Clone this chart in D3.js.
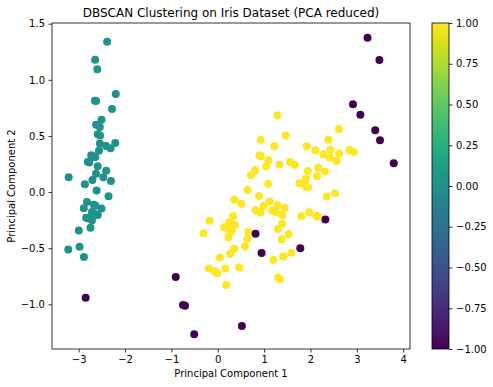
<!DOCTYPE html>
<html>
<head>
<meta charset="utf-8">
<script src="https://cdn.jsdelivr.net/npm/d3@7"></script>
<style>
  body { margin: 0; background: #fff; }
  text { font-family: "DejaVu Sans", sans-serif; fill: #000; }
</style>
</head>
<body>
<div id="chart"></div>
<script>
// PCA coordinates of the iris samples
var pc1 = [-2.684,-2.714,-2.889,-2.745,-2.729,-2.281,-2.821,-2.626,-2.886,-2.673,
  -2.507,-2.613,-2.786,-3.224,-2.645,-2.386,-2.624,-2.648,-2.200,-2.588,
  -2.310,-2.544,-3.216,-2.303,-2.356,-2.507,-2.469,-2.562,-2.640,-2.632,
  -2.587,-2.410,-2.649,-2.599,-2.637,-2.866,-2.625,-2.801,-2.981,-2.590,
  -2.770,-2.849,-2.997,-2.406,-2.209,-2.714,-2.538,-2.839,-2.543,-2.703,
  1.285,0.932,1.464,0.183,1.088,0.642,1.095,-0.749,1.044,-0.009,
  -0.508,0.512,0.265,0.985,-0.174,0.928,0.660,0.236,0.945,0.045,
  1.116,0.358,1.298,0.922,0.715,0.900,1.332,1.558,0.813,-0.306,
  -0.068,-0.190,0.136,1.380,0.588,0.807,1.221,0.815,0.246,0.166,
  0.465,0.891,0.231,-0.705,0.357,0.332,0.376,0.643,-0.906,0.299,
  2.531,1.415,2.617,1.972,2.350,3.397,0.521,2.933,2.321,2.917,
  1.662,1.803,2.166,1.346,1.586,1.904,1.950,3.487,3.796,1.301,
  2.428,1.199,3.500,1.389,2.275,2.614,1.259,1.291,2.124,2.388,
  2.842,3.231,2.159,1.444,1.781,3.076,2.144,1.905,1.169,2.108,
  2.314,1.922,1.415,2.563,2.419,1.944,1.527,1.764,1.901,1.390];
var pc2 = [0.319,-0.177,-0.145,-0.318,0.327,0.741,-0.089,0.163,-0.578,-0.114,
  0.645,0.015,-0.235,-0.511,1.179,1.338,0.811,0.312,0.873,0.514,
  0.391,0.433,0.133,0.099,-0.037,-0.146,0.131,0.368,0.312,-0.197,
  -0.204,0.411,0.813,1.093,-0.121,0.069,0.599,0.269,-0.488,0.229,
  0.264,-0.941,-0.342,0.189,0.437,-0.250,0.504,-0.228,0.579,0.108,
  0.685,0.318,0.504,-0.828,0.075,-0.418,0.283,-1.005,0.228,-0.723,
  -1.266,-0.104,-0.550,-0.125,-0.255,0.467,-0.353,-0.334,-0.543,-0.584,
  -0.085,-0.069,-0.328,-0.183,0.149,0.329,0.244,0.267,-0.163,-0.368,
  -0.705,-0.680,-0.314,-0.421,-0.484,0.194,0.408,-0.372,-0.269,-0.682,
  -0.671,-0.034,-0.404,-1.012,-0.505,-0.213,-0.293,0.018,-0.756,-0.349,
  -0.010,-0.575,0.344,-0.180,-0.040,0.551,-1.193,0.356,-0.244,0.783,
  0.242,-0.216,0.216,-0.777,-0.540,0.119,0.042,1.176,0.257,-0.761,
  0.378,-0.606,0.461,-0.204,0.335,0.561,-0.180,-0.117,-0.210,0.465,
  0.375,1.374,-0.217,-0.143,-0.500,0.688,0.140,0.049,-0.165,0.372,
  0.184,0.409,-0.575,0.278,0.305,0.188,-0.375,0.079,0.117,-0.283];
// DBSCAN cluster label per sample (-1 = noise)
var labels = [0,0,0,0,0,0,0,0,0,0, 0,0,0,0,0,0,0,0,0,0,
  0,0,0,0,0,0,0,0,0,0, 0,0,0,0,0,0,0,0,0,0,
  0,-1,0,0,0,0,0,0,0,0,
  1,1,1,1,1,1,1,-1,1,1, -1,1,1,1,1,1,1,1,-1,1,
  1,1,1,1,1,1,1,1,1,1, 1,1,1,1,1,1,1,-1,1,1,
  1,1,1,-1,1,1,1,1,-1,1,
  1,1,1,1,1,-1,-1,1,-1,-1, 1,1,1,1,1,1,1,-1,-1,1,
  1,1,-1,1,1,1,1,1,1,1, 1,-1,1,1,-1,-1,1,1,1,1,
  1,1,1,1,1,1,1,1,1,1];
var xTicks = [-3, -2, -1, 0, 1, 2, 3, 4];
var yTicks = [-1.0, -0.5, 0.0, 0.5, 1.0, 1.5];
var cbarTicks = [-1.0, -0.75, -0.5, -0.25, 0.0, 0.25, 0.5, 0.75, 1.0];

var width = 493, height = 387;
var margin = {top: 23, right: 83, bottom: 38, left: 52};
var plotW = width - margin.left - margin.right;
var plotH = height - margin.top - margin.bottom;

var points = pc1.map(function(d, i){ return {x: d, y: pc2[i], label: labels[i]}; });

function padded(ext){
    var pad = (ext[1] - ext[0]) * 0.05;
    return [ext[0] - pad, ext[1] + pad];
}
var minus = function(s){ return s.replace("-", "\u2212"); };

var x = d3.scaleLinear().domain(padded(d3.extent(pc1))).range([0, plotW]);
var y = d3.scaleLinear().domain(padded(d3.extent(pc2))).range([plotH, 0]);
var color = d3.scaleSequential(d3.interpolateViridis).domain([-1, 1]);

var svg = d3.select("#chart").append("svg")
    .attr("width", width)
    .attr("height", height);

var g = svg.append("g")
    .attr("transform", "translate(" + margin.left + "," + margin.top + ")");

g.selectAll("circle")
    .data(points)
    .enter()
    .append("circle")
    .attr("cx", function(d){ return x(d.x); })
    .attr("cy", function(d){ return y(d.y); })
    .attr("r", 4)
    .style("fill", function(d){ return color(d.label); });

var xAxis = g.append("g")
    .attr("transform", "translate(0," + plotH + ")")
    .call(d3.axisBottom(x).tickValues(xTicks).tickSize(3.5).tickPadding(3.5)
        .tickFormat(function(d){ return minus(d3.format("d")(d)); }));
var yAxis = g.append("g")
    .call(d3.axisLeft(y).tickValues(yTicks).tickSize(3.5).tickPadding(3.5)
        .tickFormat(function(d){ return minus(d3.format(".1f")(d)); }));
[xAxis, yAxis].forEach(function(a){
    a.select(".domain").remove();
    a.selectAll("text").style("font-size", "10px").attr("fill", "#000");
    a.selectAll("line").attr("stroke", "#000").attr("stroke-width", 0.8);
});

g.append("rect")
    .attr("width", plotW)
    .attr("height", plotH)
    .attr("fill", "none")
    .attr("stroke", "#000")
    .attr("stroke-width", 0.8);

svg.append("text")
    .attr("x", margin.left + plotW / 2)
    .attr("y", 17)
    .attr("text-anchor", "middle")
    .style("font-size", "12px")
    .text("DBSCAN Clustering on Iris Dataset (PCA reduced)");

svg.append("text")
    .attr("x", margin.left + plotW / 2)
    .attr("y", 377)
    .attr("text-anchor", "middle")
    .style("font-size", "10px")
    .text("Principal Component 1");

svg.append("text")
    .attr("transform", "translate(15," + (margin.top + plotH / 2) + ") rotate(-90)")
    .attr("text-anchor", "middle")
    .style("font-size", "10px")
    .text("Principal Component 2");

// colorbar
var cbX = 432, cbW = 17;
var cbScale = d3.scaleLinear().domain([-1, 1]).range([plotH, 0]);
var grad = svg.append("defs").append("linearGradient")
    .attr("id", "viridis")
    .attr("x1", 0).attr("y1", 1).attr("x2", 0).attr("y2", 0);
d3.range(0, 1.0001, 0.05).forEach(function(t){
    grad.append("stop")
        .attr("offset", t)
        .attr("stop-color", d3.interpolateViridis(t));
});
var cb = svg.append("g")
    .attr("transform", "translate(" + cbX + "," + margin.top + ")");
cb.append("rect")
    .attr("width", cbW)
    .attr("height", plotH)
    .attr("fill", "url(#viridis)")
    .attr("stroke", "#000")
    .attr("stroke-width", 0.8);
var cbAxis = cb.append("g")
    .attr("transform", "translate(" + cbW + ",0)")
    .call(d3.axisRight(cbScale).tickValues(cbarTicks).tickSize(3.5).tickPadding(3.5)
        .tickFormat(function(d){ return minus(d3.format(".2f")(d)); }));
cbAxis.select(".domain").remove();
cbAxis.selectAll("text").style("font-size", "10px").attr("fill", "#000");
cbAxis.selectAll("line").attr("stroke", "#000").attr("stroke-width", 0.8);
</script>
</body>
</html>
